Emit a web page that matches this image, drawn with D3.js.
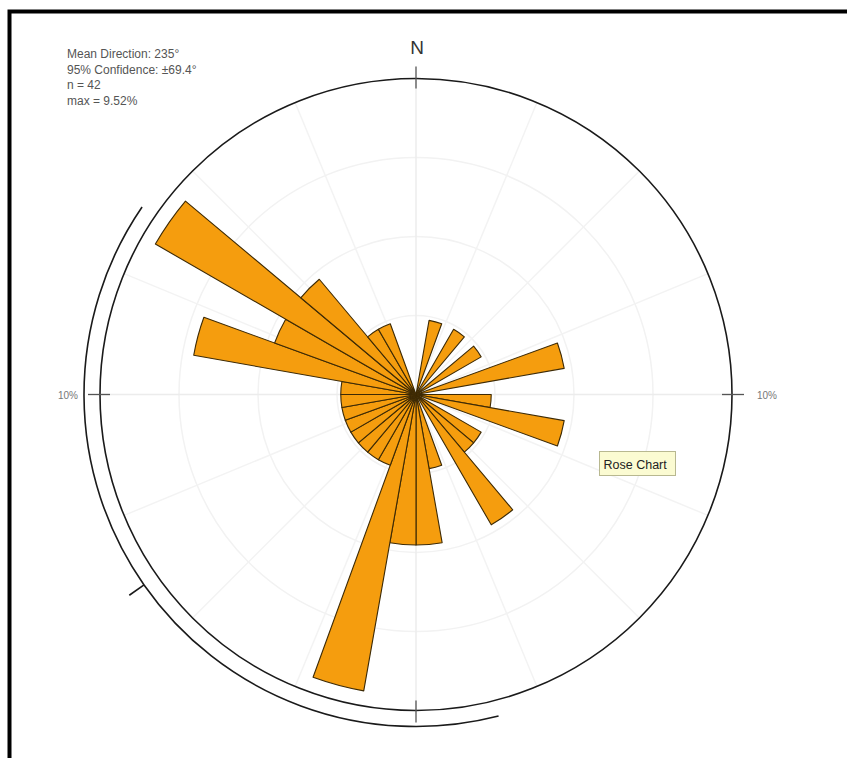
<!DOCTYPE html>
<html>
<head>
<meta charset="utf-8">
<script src="https://cdn.jsdelivr.net/npm/d3@7"></script>
<style>
  html, body { margin: 0; padding: 0; background: #fff; }
  svg { display: block; font-family: "Liberation Sans", Arial, sans-serif; }
</style>
</head>
<body>
<svg id="chart" width="847" height="758"></svg>
<script>
// ---- data ----
const binStarts = d3.range(0, 360, 10);           // 10° bins, compass degrees
const binCounts = [0,1,0,1,0,1,0,2,0,
                   1,2,0,1,1,2,0,1,2,
                   2,4,1,1,1,1,1,1,1,
                   1,3,2,4,2,1,1,0,0];
const totalN = 42;
const meanDirection = 235;
const confidence = 69.4;
const ringTicks = [2.5, 5, 7.5, 10];
const spokeAngles = d3.range(0, 360, 22.5);
const axisLabels = ["10%", "10%"];
const statLines = ["Mean Direction: 235°", "95% Confidence: ±69.4°", "n = 42", "max = 9.52%"];
const northLabel = "N";
const tooltipText = "Rose Chart";

// ---- layout ----
const svg = d3.select("#chart");
const cx = 416, cy = 394.5, R = 316;
const rad = d => d * Math.PI / 180;
const r = d3.scaleLinear().domain([0, 10]).range([0, R]);
const g = svg.append("g").attr("transform", `translate(${cx},${cy})`);

// frame
svg.append("path")
  .attr("d", "M9.5,760 L9.5,11.5 L850,11.5")
  .attr("fill", "none").attr("stroke", "#000").attr("stroke-width", 4);

// grid rings
g.selectAll("circle.ring").data(ringTicks.slice(0, -1)).join("circle")
  .attr("class", "ring").attr("r", d => r(d))
  .attr("fill", "none").attr("stroke", "#f2f2f2").attr("stroke-width", 1.5);

// spokes
g.selectAll("line.spoke").data(spokeAngles).join("line")
  .attr("class", "spoke")
  .attr("x1", 0).attr("y1", 0)
  .attr("x2", d => R * Math.sin(rad(d)))
  .attr("y2", d => -R * Math.cos(rad(d)))
  .attr("stroke", d => (d % 90 === 0) ? "#ececec" : "#f3f3f3")
  .attr("stroke-width", 1.5);

// bars
const pct = binCounts.map(c => c / totalN * 100);
const arc = d3.arc().innerRadius(0);
g.selectAll("path.bar").data(binStarts.map((s, i) => ({ s, v: pct[i] })).filter(d => d.v > 0))
  .join("path")
  .attr("class", "bar")
  .attr("d", d => arc({ outerRadius: r(d.v), startAngle: rad(d.s), endAngle: rad(d.s + 10) }))
  .attr("fill", "#f59d0e")
  .attr("stroke", "#3d2a05")
  .attr("stroke-width", 1.1)
  .attr("stroke-linejoin", "round");

// outer circle
g.append("circle").attr("r", r(10))
  .attr("fill", "none").attr("stroke", "#1a1a1a").attr("stroke-width", 1.6);

// cardinal ticks
g.selectAll("line.card").data([0, 90, 180, 270]).join("line")
  .attr("class", "card")
  .attr("x1", d => (R - 10) * Math.sin(rad(d)))
  .attr("y1", d => -(R - 10) * Math.cos(rad(d)))
  .attr("x2", d => (R + 12) * Math.sin(rad(d)))
  .attr("y2", d => -(R + 12) * Math.cos(rad(d)))
  .attr("stroke", "#555").attr("stroke-width", 1.3);

// confidence arc
const confR = 332;
g.append("path")
  .attr("d", d3.arc().innerRadius(confR).outerRadius(confR)
    ({ startAngle: rad(meanDirection - confidence), endAngle: rad(meanDirection + confidence) }))
  .attr("fill", "none").attr("stroke", "#1a1a1a").attr("stroke-width", 1.6);

// mean direction tick
g.append("line")
  .attr("x1", confR * Math.sin(rad(meanDirection)))
  .attr("y1", -confR * Math.cos(rad(meanDirection)))
  .attr("x2", (confR + 18) * Math.sin(rad(meanDirection)))
  .attr("y2", -(confR + 18) * Math.cos(rad(meanDirection)))
  .attr("stroke", "#1a1a1a").attr("stroke-width", 1.6);

// scale labels
g.append("text").attr("x", -R - 22).attr("y", 4).attr("text-anchor", "end")
  .attr("font-size", 10).attr("fill", "#777").text(axisLabels[0]);
g.append("text").attr("x", R + 25).attr("y", 4).attr("text-anchor", "start")
  .attr("font-size", 10).attr("fill", "#777").text(axisLabels[1]);

// North label
g.append("text").attr("x", 1).attr("y", -R - 25).attr("text-anchor", "middle")
  .attr("font-size", 19).attr("fill", "#333").text(northLabel);

// stats text
svg.append("g").selectAll("text").data(statLines).join("text")
  .attr("x", 67).attr("y", (d, i) => 58 + i * 15.5)
  .attr("font-size", 12).attr("fill", "#555").text(d => d);

// tooltip
const tip = svg.append("g").attr("transform", "translate(599.5,451.5)");
tip.append("rect").attr("width", 76).attr("height", 24)
  .attr("fill", "#fbfbd2").attr("stroke", "#b8b890").attr("stroke-width", 1);
tip.append("text").attr("x", 4).attr("y", 17).attr("font-size", 12.5)
  .attr("fill", "#222").text(tooltipText);
</script>
</body>
</html>
